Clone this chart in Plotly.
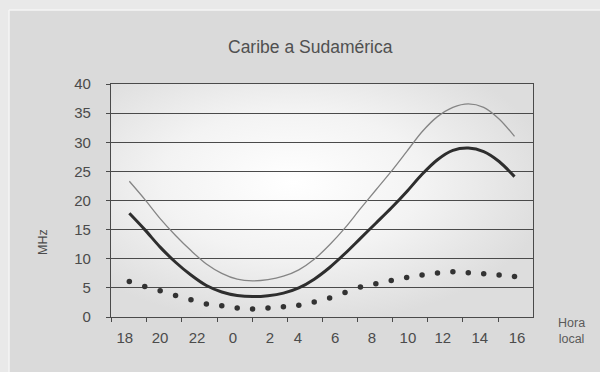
import base64
import plotly.graph_objects as go

# Propagation frequencies, Caribbean to South America, sampled along the day
n_points = 26
upper_mhz = [23.3, 20.2, 16.9, 14.0, 11.4, 9.1, 7.5, 6.5, 6.2, 6.4, 7.0, 8.1, 9.9,
             12.4, 15.3, 18.6, 21.8, 25.0, 28.4, 31.8, 34.4, 36.0, 36.6, 36.0, 34.0, 31.0]
optimum_mhz = [17.8, 15.0, 12.0, 9.4, 7.2, 5.4, 4.3, 3.7, 3.5, 3.65, 4.1, 5.0, 6.5,
               8.5, 10.9, 13.5, 16.1, 18.7, 21.5, 24.5, 27.0, 28.6, 29.0, 28.4, 26.7, 24.1]
lower_mhz = [6.1, 5.25, 4.5, 3.7, 2.97, 2.23, 1.94, 1.54, 1.37, 1.54, 1.77, 2.0, 2.57,
             3.26, 4.22, 5.15, 5.71, 6.28, 6.8, 7.2, 7.55, 7.77, 7.6, 7.43, 7.2, 6.97]
hour_labels = ["18", "20", "22", "0", "2", "4", "6", "8", "10", "12", "14", "16"]

x = list(range(n_points))

# axis geometry (in sample units)
x_range = [-1.19, 26.2]
label_pos = [-0.29, 1.99, 4.39, 6.73, 9.13, 10.95, 13.36, 15.74, 18.08, 20.35, 22.75, 25.16]
tick_pos = [-1.15 + 2.28 * k for k in range(13)]

W, H = 600, 372
ML, MR, MT, MB = 111, 67, 84, 55
PW, PH = W - ML - MR, H - MT - MB


def px_x(p):
    return (p - ML) / PW


def px_y(p):
    return (H - MB - p) / PH


grid = "#4a4a4a"
text_col = "#4b4b4b"
font = "Liberation Sans, Arial, sans-serif"

fig = go.Figure()
fig.add_trace(go.Scatter(x=x, y=upper_mhz, mode="lines",
                         line=dict(color="#858585", width=1.3, shape="spline", smoothing=0.9),
                         hoverinfo="skip", showlegend=False))
fig.add_trace(go.Scatter(x=x, y=optimum_mhz, mode="lines",
                         line=dict(color="#2e2e2e", width=3, shape="spline", smoothing=0.9),
                         hoverinfo="skip", showlegend=False))
fig.add_trace(go.Scatter(x=x, y=lower_mhz, mode="markers",
                         marker=dict(color="#333333", size=5.5),
                         hoverinfo="skip", showlegend=False))

# soft radial light in the plotting area
svg = (
    "<svg xmlns='http://www.w3.org/2000/svg' width='422' height='233' preserveAspectRatio='none'>"
    "<defs><radialGradient id='g' cx='0.43' cy='0.42' r='0.62'>"
    "<stop offset='0' stop-color='#ffffff'/>"
    "<stop offset='0.5' stop-color='#f3f3f3'/>"
    "<stop offset='1' stop-color='#dddddd'/>"
    "</radialGradient></defs>"
    "<rect width='422' height='233' fill='url(#g)'/></svg>"
)
src = "data:image/svg+xml;base64," + base64.b64encode(svg.encode()).decode()
fig.add_layout_image(dict(source=src, xref="paper", yref="paper", x=0, y=1,
                          sizex=1, sizey=1, sizing="stretch", layer="below",
                          xanchor="left", yanchor="top"))

# lighter outer frame around the panel
outer = "#e9e9e9"
fig.add_shape(type="rect", xref="paper", yref="paper", x0=px_x(0), x1=px_x(W),
              y0=px_y(0), y1=px_y(10), fillcolor=outer, line_width=0, layer="below")
fig.add_shape(type="rect", xref="paper", yref="paper", x0=px_x(0), x1=px_x(9),
              y0=px_y(H), y1=px_y(0), fillcolor=outer, line_width=0, layer="below")
fig.add_shape(type="line", xref="paper", yref="paper", x0=px_x(9), x1=px_x(W),
              y0=px_y(10), y1=px_y(10), line=dict(color="#f4f4f4", width=1.5), layer="below")
fig.add_shape(type="line", xref="paper", yref="paper", x0=px_x(9), x1=px_x(9),
              y0=px_y(10), y1=px_y(H), line=dict(color="#f4f4f4", width=1.5), layer="below")

fig.add_annotation(text="Caribe a Sudamérica", xref="paper", yref="paper",
                   x=px_x(310), y=px_y(47), xanchor="center", yanchor="middle",
                   showarrow=False, font=dict(size=17.5, color="#505050", family=font))
fig.add_annotation(text="MHz", xref="paper", yref="paper", x=px_x(43), y=px_y(242),
                   xanchor="center", yanchor="middle", textangle=-90, showarrow=False,
                   font=dict(size=12.5, color=text_col, family=font))
fig.add_annotation(text="Hora<br>local", xref="paper", yref="paper", x=px_x(571), y=px_y(331),
                   xanchor="center", yanchor="middle", showarrow=False, align="center",
                   font=dict(size=12.5, color="#5a5a5a", family=font))

fig.update_xaxes(range=x_range, tickmode="array", tickvals=label_pos, ticktext=hour_labels,
                 ticks="", showgrid=False, zeroline=False, showline=True, linecolor=grid,
                 linewidth=1.3, mirror=True, ticklabelstandoff=7,
                 tickfont=dict(size=15, color=text_col, family=font),
                 minor=dict(tickmode="array", tickvals=tick_pos, ticks="outside",
                            ticklen=4, tickcolor=grid, tickwidth=1.3, showgrid=False))
fig.update_yaxes(range=[0, 40], dtick=5, showgrid=True, gridcolor=grid, gridwidth=1.3,
                 zeroline=False, showline=True, linecolor=grid, linewidth=1.3, mirror=True,
                 ticks="outside", ticklen=4, tickcolor=grid, tickwidth=1.3,
                 ticklabelstandoff=12,
                 tickfont=dict(size=15, color=text_col, family=font))

fig.update_layout(width=W, height=H, margin=dict(l=ML, r=MR, t=MT, b=MB),
                  paper_bgcolor="#dadada", plot_bgcolor="rgba(0,0,0,0)",
                  showlegend=False)

fig.write_html("out.html")
